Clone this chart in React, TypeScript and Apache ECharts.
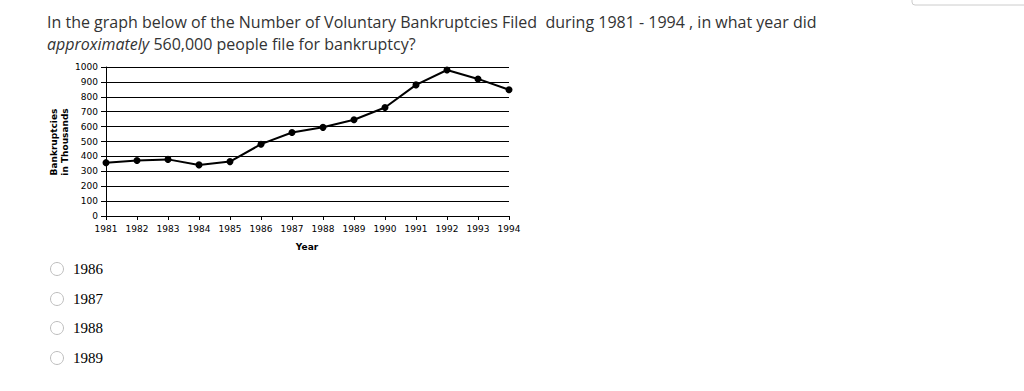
import React, { useEffect, useRef } from "react";
import * as echarts from "echarts";

const years = ["1981","1982","1983","1984","1985","1986","1987","1988","1989","1990","1991","1992","1993","1994"];
const bankruptcies = [358, 372, 380, 343, 365, 482, 560, 595, 646, 728, 880, 980, 920, 847];
const choices = ["1986", "1987", "1988", "1989"];
const questionLine1 = "In the graph below of the Number of Voluntary Bankruptcies Filed  during 1981 - 1994 , in what year did";
const questionItalic = "approximately";
const questionRest = " 560,000 people file for bankruptcy?";

export default function App() {
  const ref = useRef<HTMLDivElement>(null);
  useEffect(() => {
    const chart = echarts.init(ref.current!, undefined, { renderer: "svg" });
    const choiceY = [269, 299, 328, 358];
    const graphics: any[] = [
      {
        type: "text", x: 47, y: 22,
        style: { text: questionLine1, fontFamily: "Open Sans", fontSize: 16, fill: "#333", verticalAlign: "middle" },
      },
      {
        type: "text", x: 47, y: 44,
        style: {
          text: "{i|" + questionItalic + "}{n|" + questionRest + "}",
          fontFamily: "Open Sans", fontSize: 16, fill: "#333", verticalAlign: "middle",
          rich: {
            i: { fontStyle: "italic", fontFamily: "Open Sans", fontSize: 16, fill: "#333" },
            n: { fontFamily: "Open Sans", fontSize: 16, fill: "#333" },
          },
        },
      },
      {
        type: "text", x: 59, y: 142, rotation: Math.PI / 2,
        style: { text: "Bankruptcies\nin Thousands", fontFamily: "DejaVu Sans", fontWeight: "bold", fontSize: 9, fill: "#000", align: "center", verticalAlign: "middle", lineHeight: 11 },
      },
      {
        type: "text", x: 307, y: 247,
        style: { text: "Year", fontFamily: "DejaVu Sans", fontWeight: "bold", fontSize: 9, fill: "#000", align: "center", verticalAlign: "middle" },
      },
      {
        type: "rect", shape: { x: 912, y: -10, width: 130, height: 15, r: 3 },
        style: { fill: "#fff", stroke: "#ccc", lineWidth: 1 },
      },
    ];
    choices.forEach((c, i) => {
      graphics.push({
        type: "circle", shape: { cx: 57, cy: choiceY[i], r: 6.5 },
        style: { fill: "#fff", stroke: "#bdbdbd", lineWidth: 1 },
      });
      graphics.push({
        type: "text", x: 73, y: choiceY[i],
        style: { text: c, fontFamily: "Liberation Serif", fontSize: 15, fill: "#000", verticalAlign: "middle" },
      });
    });
    chart.setOption({
      animation: false,
      grid: { left: 106, right: 515, top: 67, bottom: 175, containLabel: false },
      xAxis: {
        type: "category", data: years, boundaryGap: false,
        axisLine: { lineStyle: { color: "#000", width: 1 } },
        axisTick: { show: true, length: 4, lineStyle: { color: "#000" }, alignWithLabel: true },
        axisLabel: { color: "#000", fontSize: 9, fontFamily: "DejaVu Sans", margin: 8, interval: 0 },
        splitLine: { show: false },
      },
      yAxis: {
        type: "value", min: 0, max: 1000, interval: 100,
        axisLine: { show: true, lineStyle: { color: "#000", width: 1 } },
        axisTick: { show: true, length: 5, lineStyle: { color: "#000" } },
        axisLabel: { color: "#000", fontSize: 9, fontFamily: "DejaVu Sans", margin: 8, formatter: (v: number) => String(v) },
        splitLine: { show: true, lineStyle: { color: "#000", width: 1 } },
      },
      series: [{
        type: "line", data: bankruptcies,
        symbol: "circle", symbolSize: 7,
        lineStyle: { color: "#000", width: 2 },
        itemStyle: { color: "#000" },
      }],
      graphic: graphics,
    });
    return () => chart.dispose();
  }, []);
  return <div ref={ref} style={{ position: "fixed", left: 0, top: 0, width: 1024, height: 391, background: "#fff" }} />;
}
